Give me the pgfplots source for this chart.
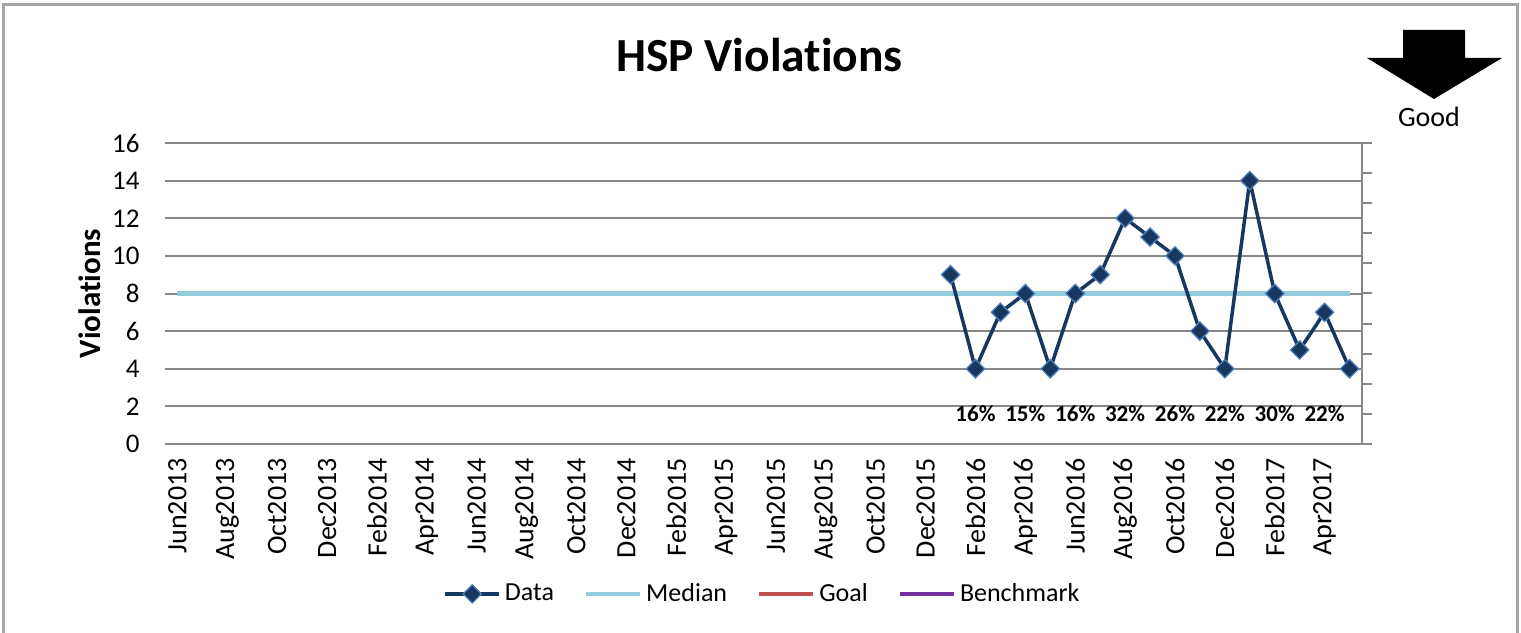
\documentclass[border=0pt]{standalone}
\usepackage{fontspec}
\setmainfont{Carlito}[Ligatures=NoCommon]
\usepackage{pgfplots}
\pgfplotsset{compat=1.18}
\definecolor{navy}{RGB}{23,55,94}
\definecolor{mkedge}{RGB}{79,129,189}
\definecolor{medianc}{RGB}{147,205,221}
\definecolor{goalc}{RGB}{192,80,77}
\definecolor{benchc}{RGB}{112,48,160}
\definecolor{gridc}{RGB}{134,134,134}
\definecolor{framec}{RGB}{165,165,165}
\begin{document}
\begin{tikzpicture}
\path[use as bounding box] (0,0) rectangle (760.5bp,316.5bp);
\draw[framec, line width=1.5bp] (1.75bp,-2bp) -- (1.75bp,314bp) -- (758.5bp,314bp) -- (758.5bp,-2bp);
\begin{axis}[
  at={(82.5bp,94.5bp)}, anchor=south west,
  width=598.5bp, height=150.5bp, scale only axis,
  xmin=-0.5, xmax=47.5, ymin=0, ymax=16,
  ytick={0,2,...,16},
  xtick={0,2,...,46},
  xticklabels={Jun2013,Aug2013,Oct2013,Dec2013,Feb2014,Apr2014,Jun2014,Aug2014,Oct2014,Dec2014,Feb2015,Apr2015,Jun2015,Aug2015,Oct2015,Dec2015,Feb2016,Apr2016,Jun2016,Aug2016,Oct2016,Dec2016,Feb2017,Apr2017},
  /pgf/number format/assume math mode=true,
  x tick label style={rotate=90, anchor=east, inner sep=0pt, font=\fontsize{14bp}{16bp}\selectfont},
  y tick label style={anchor=east, inner sep=0pt, font=\fontsize{13.5bp}{15bp}\selectfont},
  xticklabel shift=7bp, yticklabel shift=12.5bp,
  axis line style={draw=none},
  major tick length=0pt,
  ymajorgrids, grid style={gridc, line width=1bp},
  ylabel={\textbf{Violations}},
  ylabel style={at={(axis description cs:-0.0627,0.5)}, anchor=center, font=\fontsize{15.5bp}{17bp}\selectfont},
  legend columns=4,
  legend style={at={(0.5,-0.498)}, anchor=center, draw=none, fill=none,
    font=\fontsize{13bp}{15bp}\selectfont, inner sep=0pt,
    /tikz/every even column/.append style={column sep=13bp}},
  legend cell align=left,
  legend image code/.code={\draw[mark repeat=2, mark phase=2, #1] plot coordinates {(0bp,0bp) (13.5bp,0bp) (27bp,0bp)};},
]
\addplot[forget plot, medianc, line width=2.1bp] coordinates {(0,8) (47,8)};
\addplot[forget plot, navy, line width=1.75bp, mark=diamond*, mark size=4.6bp,
  mark options={xscale=1.33, fill=navy, draw=mkedge, line width=0.6bp}] coordinates {
  (31,9) (32,4) (33,7) (34,8) (35,4) (36,8) (37,9) (38,12) (39,11)
  (40,10) (41,6) (42,4) (43,14) (44,8) (45,5) (46,7) (47,4)};
\addlegendimage{navy, line width=1.75bp, mark=diamond*, mark size=4.6bp, mark options={xscale=1.33, fill=navy, draw=mkedge, line width=0.6bp}}
\addlegendentry{Data}
\addlegendimage{medianc, line width=2.1bp}
\addlegendentry{Median}
\addlegendimage{goalc, line width=2.1bp}
\addlegendentry{Goal}
\addlegendimage{benchc, line width=2.1bp}
\addlegendentry{Benchmark}
\end{axis}
\begin{axis}[
  at={(82.5bp,94.5bp)}, anchor=south west,
  width=598.5bp, height=150.5bp, scale only axis,
  xmin=-0.5, xmax=47.5, ymin=0, ymax=10,
  axis x line=none, axis y line*=right,
  ytick={0,1,...,10}, yticklabels={},
  tick align=outside, major tick length=5bp,
  tick style={gridc, line width=1bp},
  axis line style={-, gridc, line width=1bp},
]
\addplot[draw=none, nodes near coords, point meta=explicit symbolic,
  every node near coord/.append style={anchor=center, font=\bfseries\fontsize{11.5bp}{13bp}\selectfont}]
  coordinates {(32,1) [16\%] (34,1) [15\%] (36,1) [16\%] (38,1) [32\%]
   (40,1) [26\%] (42,1) [22\%] (44,1) [30\%] (46,1) [22\%]};
\end{axis}
\node[anchor=base, font=\bfseries\fontsize{23.75bp}{26bp}\selectfont] at (379.75bp,280.5bp) {HSP Violations};
\fill[black] (701.5bp,301.5bp) -- (732.5bp,301.5bp) -- (732.5bp,287.5bp) -- (751bp,287.5bp) -- (717bp,267bp) -- (683.5bp,287.5bp) -- (701.5bp,287.5bp) -- cycle;
\node[anchor=base, font=\fontsize{14bp}{16bp}\selectfont] at (714.5bp,253bp) {Good};
\end{tikzpicture}
\end{document}
